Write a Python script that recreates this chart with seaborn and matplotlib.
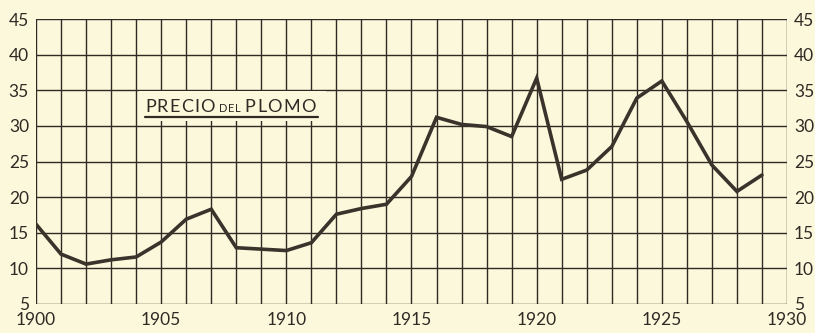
import matplotlib
matplotlib.use("Agg")
import matplotlib.pyplot as plt
import seaborn as sns
import pandas as pd

years = list(range(1900, 1930))
precio = [16.2, 12.0, 10.6, 11.2, 11.6, 13.7, 16.9, 18.3, 12.9, 12.7,
          12.5, 13.6, 17.6, 18.4, 19.0, 22.9, 31.2, 30.2, 29.9, 28.5,
          36.7, 22.5, 23.8, 27.1, 33.9, 36.3, 30.6, 24.5, 20.8, 23.1]
x_ticks = [1900, 1905, 1910, 1915, 1920, 1925, 1930]
y_ticks = [5, 10, 15, 20, 25, 30, 35, 40, 45]

paper = "#fcf8dc"
ink = "#2f2a24"

sns.set_theme(style="white")
plt.rcParams["font.family"] = ["Lato", "DejaVu Sans"]

df = pd.DataFrame({"anio": years, "precio": precio})

fig = plt.figure(figsize=(8.15, 3.33), dpi=100, facecolor=paper)
ax = fig.add_axes([36 / 815, 1 - 304 / 333, 751 / 815, 285 / 333])
ax.set_facecolor(paper)

# grid: one line per year, one per 5 units
for yr in range(1900, 1931):
    ax.axvline(yr, color=ink, lw=1.0, zorder=1)
for v in y_ticks:
    ax.axhline(v, color=ink, lw=1.0, zorder=1)

sns.lineplot(data=df, x="anio", y="precio", ax=ax, color="#3a322b",
             lw=2.6, zorder=4, solid_joinstyle="miter")

ax.set_xlim(1900, 1930)
ax.set_ylim(5, 45)
ax.set_xticks(x_ticks)
ax.set_yticks(y_ticks)
ax.set_xlabel("")
ax.set_ylabel("")
ax.tick_params(axis="both", length=0, labelcolor=ink, labelsize=12.5)
ax.tick_params(axis="x", pad=6)
ax.tick_params(axis="y", pad=5, labelright=True, labelleft=True)
for s in ax.spines.values():
    s.set_visible(False)

# title block over the grid, lettered with wide spacing
ax.fill_between([1904.1, 1911.6], 30.65, 34.85, color=paper, zorder=3, lw=0)
fig.canvas.draw()
renderer = fig.canvas.get_renderer()
baseline = 31.95


def spaced_word(x_disp, word, size, tracking_px):
    """Letter a word from display x, return display x after it."""
    y_disp = ax.transData.transform((0, baseline))[1]
    for i, ch in enumerate(word):
        xd, _ = ax.transData.inverted().transform((x_disp, y_disp))
        t = ax.text(xd, baseline, ch, fontsize=size, color=ink, zorder=5,
                    va="baseline", ha="left")
        x_disp += t.get_window_extent(renderer).width
        if i < len(word) - 1:
            x_disp += tracking_px
    return x_disp


x = ax.transData.transform((1904.35, baseline))[0]
x = spaced_word(x, "PRECIO", 13, 1.2)
x = spaced_word(x + 4, "DEL", 8, 0.8)
x = spaced_word(x + 4, "PLOMO", 13, 1.4)
x_end = ax.transData.inverted().transform((x, 0))[0]
ax.plot([1904.35, x_end + 0.08], [31.25, 31.25], color=ink, lw=1.6, zorder=5)

fig.savefig("out.png", dpi=100, facecolor=paper)
